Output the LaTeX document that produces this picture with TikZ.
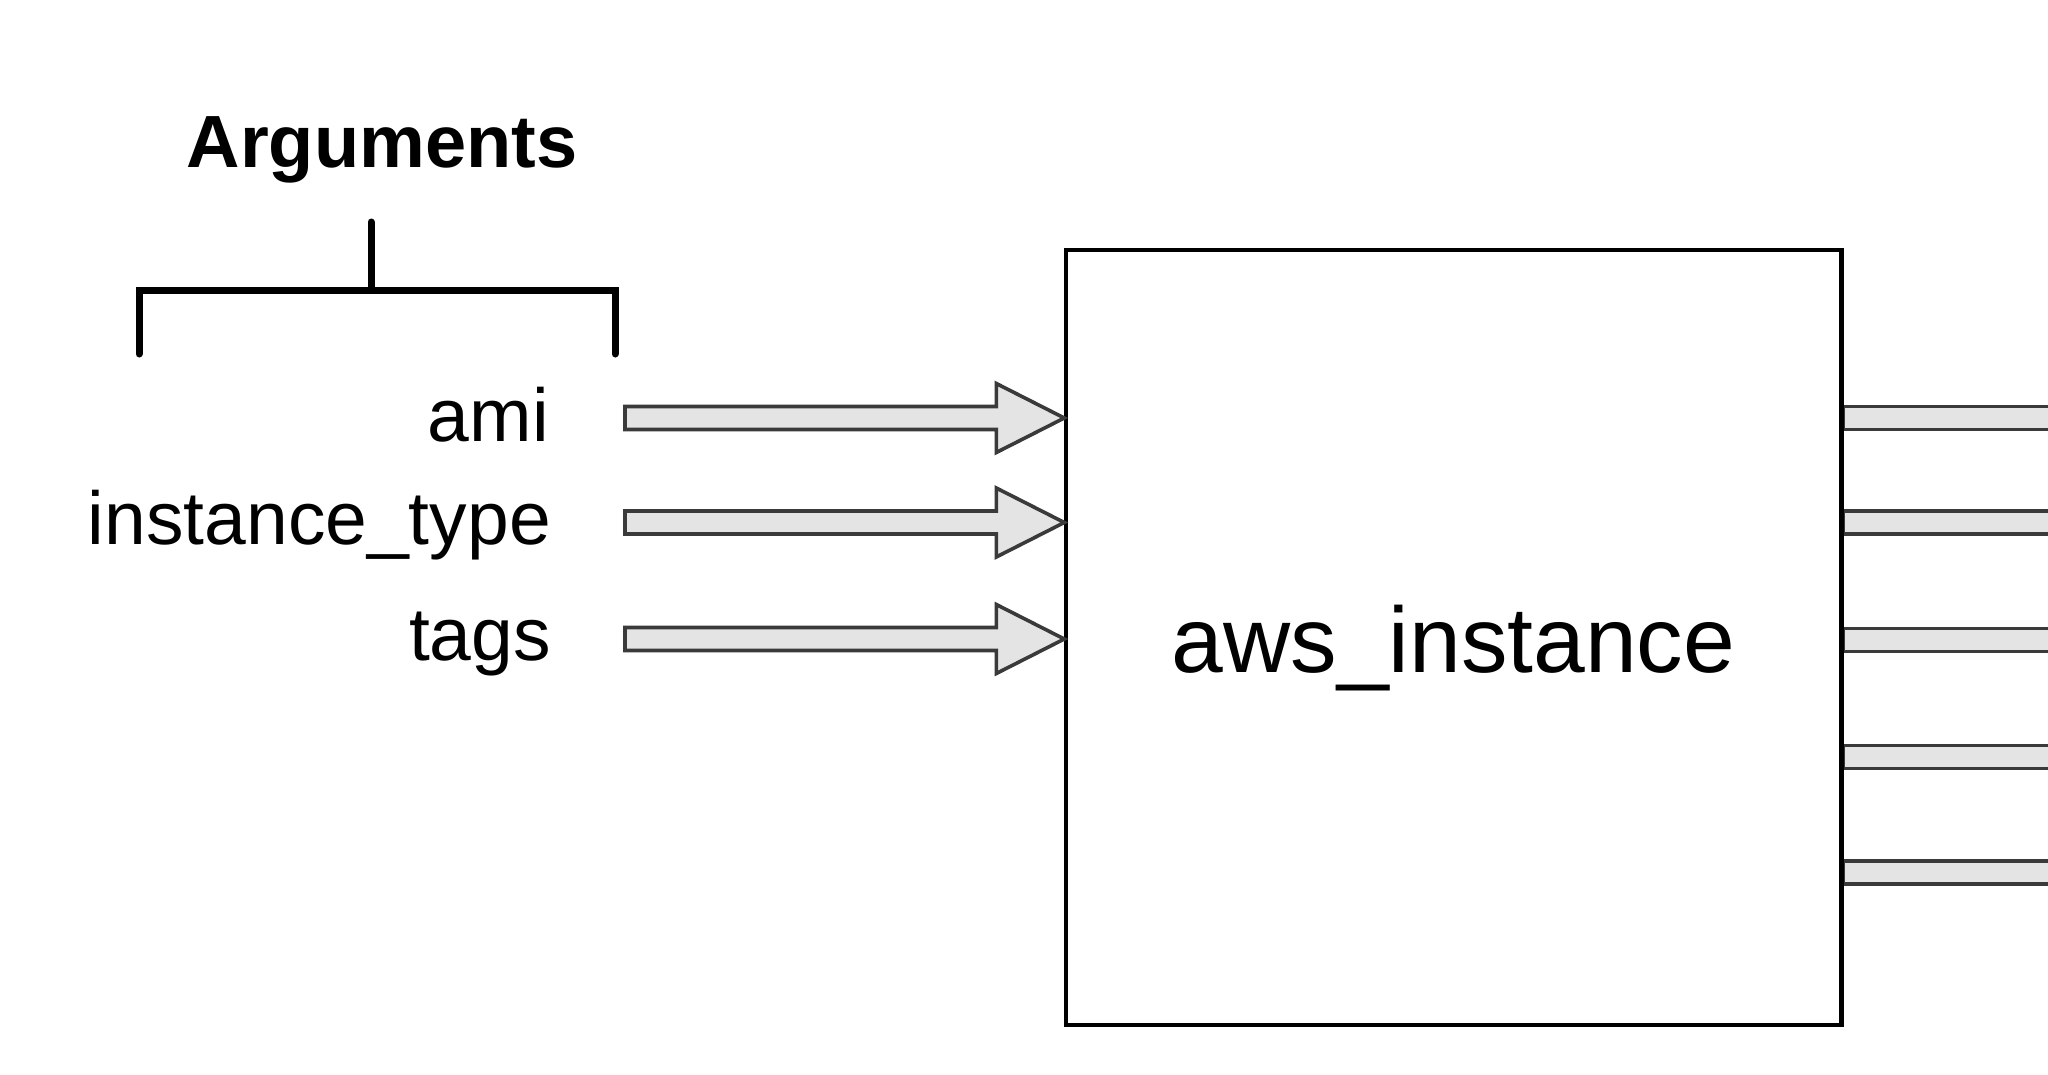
\documentclass[tikz,border=0pt]{standalone}
\usepackage{fontspec}
\setmainfont{Liberation Sans}
\usetikzlibrary{calc}
\definecolor{arrowfill}{HTML}{E4E4E4}
\definecolor{arrowline}{HTML}{3A3A3A}
\tikzset{
  fatarrow/.style={draw=arrowline, fill=arrowfill, line width=3.6pt, line join=miter},
  stub/.style={draw=arrowline, fill=arrowfill, line width=3.6pt},
  bracketline/.style={line width=7pt, line cap=round, line join=miter, draw=black},
  lbl/.style={inner sep=0pt, anchor=base east, font=\fontsize{75}{90}\selectfont},
}
\newcommand\fatarrowpath[2]{%
  \path[fatarrow] let \p1=(#1), \p2=(#2) in
    (\x1,\y1+11.5pt) -- (\x2-68pt,\y1+11.5pt) -- (\x2-68pt,\y1+34.5pt) --
    (\x2,\y2) -- (\x2-68pt,\y1-34.5pt) -- (\x2-68pt,\y1-11.5pt) --
    (\x1,\y1-11.5pt) -- cycle;}
\newcommand\stubpath[2]{%
  \path[stub] let \p1=(#1), \p2=(#2) in
    (\x1,\y1+11.5pt) -- (\x2,\y1+11.5pt) -- (\x2,\y1-11.5pt) -- (\x1,\y1-11.5pt) -- cycle;}
\begin{document}
\begin{tikzpicture}[x=1pt,y=-1pt]
\useasboundingbox (0,0) rectangle (2048,1074);
\clip (0,0) rectangle (2048,1074);
\fill[white] (0,0) rectangle (2048,1074);

% title and bracket
\node[inner sep=0pt, anchor=base, font=\bfseries\fontsize{74}{88}\selectfont] (title) at (382,167) {Arguments};
\coordinate (btop) at (371,222);
\coordinate (bmid) at (371,290);
\coordinate (bl) at (139,354);
\coordinate (br) at (615,354);
\draw[bracketline] (bl) |- (bmid) -| (br);
\draw[bracketline] (bmid) -- (btop);

% labels
\node[lbl] (ami) at (549,441) {ami};
\node[lbl] (itype) at (551,544) {instance\_type};
\node[lbl] (tags) at (551,660) {tags};

% box
\node[draw=black, line width=3.4pt, minimum width=775pt, minimum height=775pt, inner sep=0pt] (box) at (1453.5,637.5) {};
\node[inner sep=0pt, anchor=base, font=\fontsize{93}{110}\selectfont] (name) at (1453.5,672) {aws\_instance};

% input arrows
\coordinate (s1) at (625,418);
\coordinate (s2) at (625,522.5);
\coordinate (s3) at (625,639);
\coordinate (t1) at (s1 -| box.west);
\coordinate (t2) at (s2 -| box.west);
\coordinate (t3) at (s3 -| box.west);
\fatarrowpath{s1}{t1}
\fatarrowpath{s2}{t2}
\fatarrowpath{s3}{t3}

% output stubs (cut off at the right edge)
\foreach \i/\y in {1/418,2/522.5,3/640,4/757,5/872.5}{
  \coordinate (o\i) at (2080,\y);
  \coordinate (e\i) at (o\i -| box.east);
  \stubpath{e\i}{o\i}
}
\draw[line width=3.4pt] (box.north east) -- (box.south east);
\end{tikzpicture}
\end{document}
